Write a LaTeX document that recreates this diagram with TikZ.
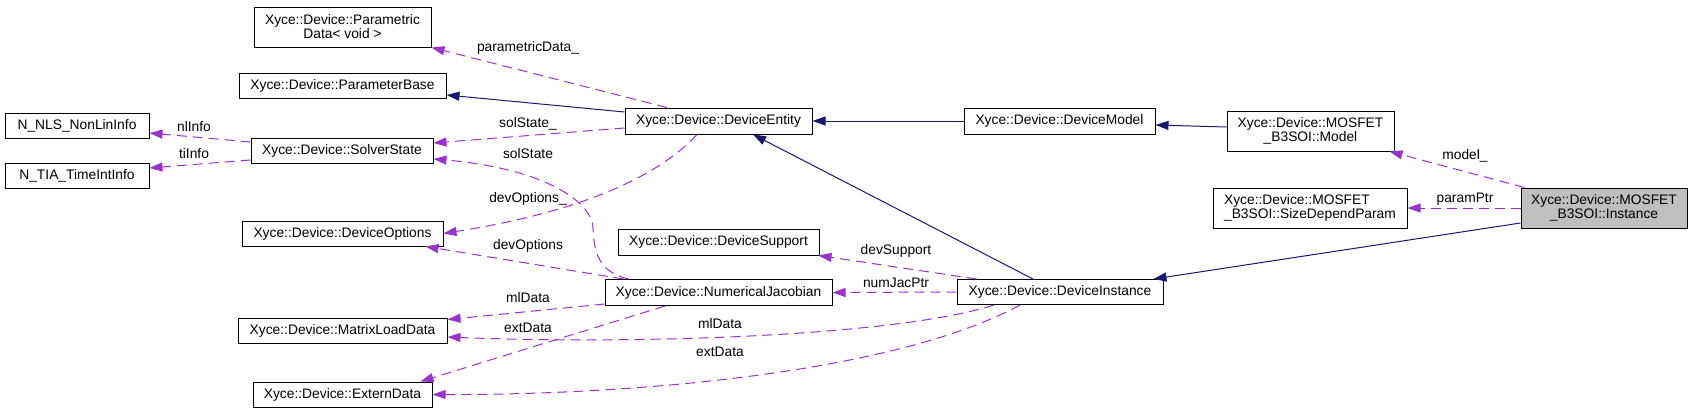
\documentclass[tikz,border=0pt]{standalone}
\usepackage{fontspec}
\setmainfont{Liberation Sans}
\usetikzlibrary{arrows.meta}
\definecolor{inhblue}{HTML}{191970}
\definecolor{memberpurple}{HTML}{9A32CD}
\definecolor{curfill}{HTML}{BFBFBF}

\begin{document}
\begin{tikzpicture}[x=1pt,y=-1pt,
  cls/.style={draw=black, line width=1pt, inner sep=0pt, minimum height=25pt, align=center, font=\fontsize{13.8}{14}\selectfont},
  lbl/.style={inner sep=0pt, font=\fontsize{13.8}{14}\selectfont},
  inh/.style={draw=inhblue, line width=1pt, -{Triangle[length=13pt,width=9pt]}},
  member/.style={draw=memberpurple, line width=1pt, dash pattern=on 10pt off 6pt, -{Triangle[length=13pt,width=9pt]}}]

\useasboundingbox (0,0) rectangle (1693,413);

\node[cls, minimum width=177pt, minimum height=40pt] (pdata) at (342.5,27) {Xyce::Device::Parametric\\Data< void >};
\node[cls, minimum width=207pt] (pbase) at (342.5,85.5) {Xyce::Device::ParameterBase};
\node[cls, minimum width=144pt] (nls) at (77,125.5) {N\_NLS\_NonLinInfo};
\node[cls, minimum width=182pt] (sstate) at (342,150.5) {Xyce::Device::SolverState};
\node[cls, minimum width=144pt] (tia) at (77,175.5) {N\_TIA\_TimeIntInfo};
\node[cls, minimum width=201pt] (dopt) at (342.5,233.5) {Xyce::Device::DeviceOptions};
\node[cls, minimum width=209pt] (mld) at (342.5,330.5) {Xyce::Device::MatrixLoadData};
\node[cls, minimum width=179pt] (ext) at (342.5,394.5) {Xyce::Device::ExternData};

\node[cls, minimum width=187pt, minimum height=26pt] (dentity) at (718.5,121) {Xyce::Device::DeviceEntity};
\node[cls, minimum width=201pt, minimum height=26pt] (dsupport) at (718.5,242) {Xyce::Device::DeviceSupport};
\node[cls, minimum width=227pt, minimum height=26pt] (njac) at (718.5,292.5) {Xyce::Device::NumericalJacobian};

\node[cls, minimum width=191pt, minimum height=26pt] (dmodel) at (1059.5,121) {Xyce::Device::DeviceModel};
\node[cls, minimum width=206pt] (dinst) at (1060,292) {Xyce::Device::DeviceInstance};

\node[cls, minimum width=167pt, minimum height=40pt] (mmodel) at (1310.5,131) {Xyce::Device::MOSFET\\\_B3SOI::Model};
\node[cls, align=left, minimum width=194pt, minimum height=40pt] (sdp) at (1310,208) {Xyce::Device::MOSFET\\\_B3SOI::SizeDependParam};
\node[cls, fill=curfill, minimum width=166pt, minimum height=40pt] (inst) at (1604,208) {Xyce::Device::MOSFET\\\_B3SOI::Instance};

\draw[inh] ([yshift=9pt]dentity.west) -- ([yshift=-9.5pt]pbase.east);
\draw[member] ([xshift=-51.5pt]dentity.north) -- (pdata.south east);
\draw[member] ([yshift=-7pt]dentity.west) -- ([yshift=7.5pt]sstate.east);
\draw[member] ([xshift=-21.5pt]dentity.south) .. controls (650,185) and (560,215) .. (dopt.east);
\draw[inh] (dmodel.west) -- (dentity.east);
\draw[inh] ([yshift=4pt]mmodel.west) -- ([yshift=-4pt]dmodel.east);
\draw[member] ([xshift=4pt]inst.north west) -- ([xshift=-5pt]mmodel.south east);
\draw[member] (inst.west) -- (sdp.east);
\draw[inh] ([yshift=-15pt]inst.west) -- ([xshift=-10pt]dinst.north east);
\draw[inh] ([xshift=-27pt]dinst.north) -- ([xshift=34.5pt]dentity.south);
\draw[member] ([xshift=20pt]dinst.north west) -- ([xshift=-1pt]dsupport.south east);
\draw[member] (dinst.west) -- (njac.east);
\draw[member] ([xshift=-66pt]dinst.south) .. controls (900,335) and (650,345) .. ([yshift=-6.5pt]mld.east);
\draw[member] ([xshift=-40pt]dinst.south) .. controls (900,370) and (650,395) .. (ext.east);
\draw[member] ([xshift=-90pt]njac.north) .. controls (600,272) and (594,255) .. (593,228) .. controls (592,200) and (540,168) .. ([yshift=-8.5pt]sstate.east);
\draw[member] ([xshift=-95pt]njac.north) -- ([xshift=-18pt]dopt.south east);
\draw[member] ([yshift=2pt]njac.south west) -- ([yshift=11pt]mld.east);
\draw[member] ([xshift=-53.5pt]njac.south) -- ([xshift=-12pt]ext.north east);
\draw[member] ([yshift=8.5pt]sstate.west) -- ([yshift=-7.5pt]nls.east);
\draw[member] ([yshift=-9.5pt]sstate.west) -- ([yshift=7.5pt]tia.east);

\node[lbl] (lpdata) at (528,48) {parametricData\_};
\node[lbl] (lsstate1) at (528,124) {solState\_};
\node[lbl] (lsstate2) at (528,154) {solState};
\node[lbl] (lnls) at (194,127) {nlInfo};
\node[lbl] (ltia) at (194,154) {tiInfo};
\node[lbl] (ldopt1) at (528,199) {devOptions\_};
\node[lbl] (ldopt2) at (528,246) {devOptions};
\node[lbl] (lmld1) at (528,298) {mlData};
\node[lbl] (lext1) at (528,328) {extData};
\node[lbl] (lmld2) at (720,324) {mlData};
\node[lbl] (lext2) at (720,352) {extData};
\node[lbl] (ldsupport) at (896,251) {devSupport};
\node[lbl] (lnjac) at (896,283) {numJacPtr};
\node[lbl] (lmmodel) at (1465,156) {model\_};
\node[lbl] (lsdp) at (1465,199) {paramPtr};

\end{tikzpicture}
\end{document}
